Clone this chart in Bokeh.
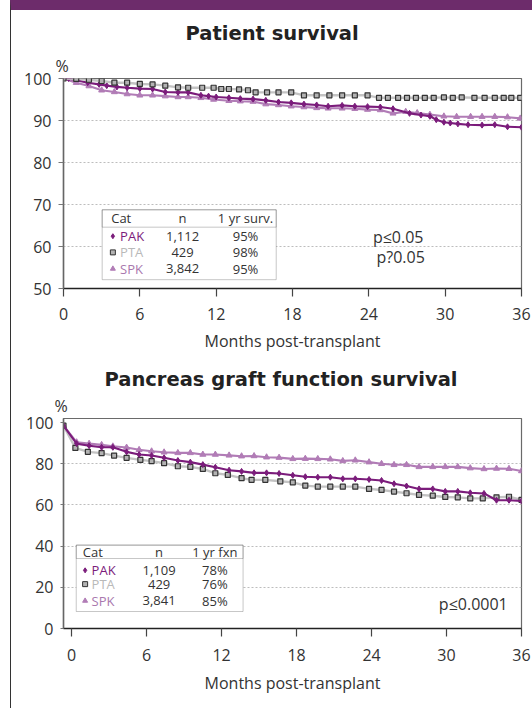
from bokeh.plotting import figure
from bokeh.models import FixedTicker, Label, BoxAnnotation, ColumnDataSource, Title
from bokeh.layouts import column
from bokeh.core.properties import value
from bokeh.embed import file_html
from bokeh.resources import INLINE

FONT = "Open Sans"
TITLE_FONT = "DejaVu Sans"

# ---------------- data ----------------
series_names = ["PAK", "PTA", "SPK"]

# Patient survival (%)
pak_pat_months = [0, 0.4, 1.9, 2.8, 3.4, 4.2, 5.0, 6.0, 7.0, 8.0,
                  9.0, 9.8, 10.8, 11.4, 12.0, 13.0, 13.9, 14.9, 15.9, 16.9,
                  17.9, 18.9, 19.9, 20.8, 21.9, 22.9, 23.9, 24.9, 25.9, 27.2,
                  28.1, 28.8, 29.3, 29.9, 30.4, 31.0, 31.8, 32.9, 33.9, 34.9, 36.0]
pak_pat_surv = [100, 100, 99.0, 98.6, 98.3, 98.0, 97.8, 97.6, 97.5, 96.8,
                96.7, 96.7, 96.0, 95.8, 95.6, 95.4, 95.2, 95.1, 94.8, 94.4,
                94.2, 93.9, 93.7, 93.4, 93.6, 93.4, 93.3, 93.2, 92.8, 91.7,
                91.3, 91.0, 90.2, 89.6, 89.4, 89.2, 89.0, 88.9, 89.0, 88.5, 88.4]

pta_pat_months = [0, 1.0, 2.0, 3.0, 4.0, 5.0, 6.0, 7.0, 8.0, 9.0,
                  9.8, 10.9, 11.8, 12.4, 13.0, 13.8, 14.5, 15.1, 16.0, 16.9, 17.9,
                  18.9, 19.9, 20.9, 21.9, 22.9, 23.9,
                  24.8, 25.5, 26.3, 27.0, 27.7, 28.4, 29.1, 29.9, 30.6, 31.3,
                  32.3, 33.1, 33.9, 34.6, 35.2, 35.9]
pta_pat_surv = [100, 99.9, 99.7, 99.4, 99.0, 99.0, 98.7, 98.6, 98.3, 97.9,
                97.8, 97.8, 97.8, 97.5, 97.5, 97.4, 97.2, 96.7, 96.7, 96.7, 96.7,
                96.0, 96.0, 96.0, 96.0, 96.0, 96.0,
                95.4, 95.4, 95.4, 95.4, 95.4, 95.4, 95.4, 95.5, 95.4, 95.5,
                95.4, 95.4, 95.4, 95.4, 95.4, 95.4]

spk_pat_months = [0, 1.0, 2.0, 3.0, 4.0, 5.0, 6.0, 7.0, 8.0, 9.0,
                  9.8, 10.8, 11.8, 13.0, 13.9, 14.9, 15.9, 16.9, 17.9, 18.9,
                  19.9, 20.8, 21.9, 22.9, 23.9, 24.9, 25.9, 26.9, 27.8, 28.8,
                  29.9, 30.9, 32.0, 32.9, 33.9, 34.9, 35.9]
spk_pat_surv = [100, 99.0, 98.2, 97.2, 96.8, 96.3, 96.0, 96.0, 95.8, 95.6,
                95.6, 95.4, 95.0, 94.7, 94.6, 94.5, 93.9, 93.7, 93.4, 93.2,
                93.0, 92.9, 92.9, 92.8, 92.6, 92.5, 91.7, 92.1, 91.8, 91.4,
                91.0, 90.9, 90.9, 90.9, 90.9, 90.8, 90.5]

# Pancreas graft function survival (%)
pak_graft_months = [-0.65, 0.4, 1.4, 2.4, 3.3, 4.4, 5.4, 6.4, 7.4, 8.5,
                    9.5, 10.5, 11.5, 12.6, 13.6, 14.6, 15.6, 16.6, 17.7, 18.7,
                    19.7, 20.7, 21.7, 22.7, 23.8, 24.8, 25.8, 26.8, 27.8, 28.9,
                    29.9, 30.9, 31.9, 33.0, 34.0, 35.0, 36.0]
pak_graft_surv = [98.5, 89.8, 88.8, 88.0, 88.0, 85.8, 84.5, 84.0, 82.9, 81.6,
                  80.8, 79.6, 78.3, 76.9, 76.3, 75.6, 75.6, 75.3, 74.4, 73.7,
                  73.5, 73.5, 72.7, 72.7, 72.4, 71.9, 70.3, 69.2, 67.8, 67.8,
                  66.6, 66.6, 65.9, 65.6, 62.3, 62.3, 61.9]

pta_graft_months = [-0.65, 0.3, 1.3, 2.4, 3.4, 4.4, 5.5, 6.4, 7.4, 8.5,
                    9.5, 10.5, 11.5, 12.5, 13.6, 14.4, 15.5, 16.7, 17.7, 18.7,
                    19.7, 20.7, 21.7, 22.7, 23.8, 24.8, 25.8, 26.8, 27.8, 28.9,
                    29.9, 30.9, 31.9, 32.9, 34.0, 35.0, 36.0]
pta_graft_surv = [98.5, 87.7, 85.8, 85.2, 84.0, 82.9, 81.9, 81.3, 80.3, 78.8,
                  78.5, 77.5, 75.4, 74.6, 73.0, 72.2, 72.2, 71.5, 71.0, 69.4,
                  68.9, 68.9, 68.9, 68.9, 67.8, 67.3, 66.5, 65.7, 64.9, 64.5,
                  63.9, 63.7, 63.2, 63.2, 63.7, 64.0, 62.5]

spk_graft_months = [-0.65, 0.4, 1.4, 2.4, 3.3, 4.4, 5.4, 6.4, 7.4, 8.5,
                    9.5, 10.5, 11.5, 12.6, 13.6, 14.6, 15.6, 16.6, 17.7, 18.7,
                    19.7, 20.7, 21.7, 22.7, 23.8, 24.8, 25.8, 26.8, 27.8, 28.9,
                    29.9, 30.9, 31.9, 33.0, 34.0, 35.0, 36.0]
spk_graft_surv = [98.5, 90.5, 89.8, 89.2, 88.5, 87.9, 86.8, 86.1, 85.6, 85.3,
                  85.3, 84.5, 84.5, 84.1, 83.7, 83.8, 83.2, 83.0, 82.4, 82.5,
                  82.4, 82.2, 81.4, 81.7, 80.8, 80.0, 79.5, 79.5, 78.5, 78.5,
                  78.5, 78.5, 77.9, 77.5, 77.7, 77.6, 76.5]

patient_n = ["1,112", "429", "3,842"]
patient_1yr = ["95%", "98%", "95%"]
graft_n = ["1,109", "429", "3,841"]
graft_1yr = ["78%", "76%", "85%"]

month_ticks = [0, 6, 12, 18, 24, 30, 36]
patient_ticks = [50, 60, 70, 80, 90, 100]
patient_grid = [60, 70, 80, 90]
graft_ticks = [0, 20, 40, 60, 80, 100]
graft_grid = [20, 40, 60, 80]

# ---------------- styles ----------------
LINE_COL = {"PAK": "#7b1c7b", "PTA": "#c3c3c3", "SPK": "#b17cb6"}
TEXT_COL = {"PAK": "#7b1c7b", "PTA": "#b9b9b9", "SPK": "#a978ae"}
MARKER = {"PAK": "diamond", "PTA": "square", "SPK": "triangle"}


def make_fig(width, height, xr, yr, left, right, top, bottom, yticks, ygrid,
             tick_y_out, title, title_offset, title_standoff, pct_offset,
             xlabel_standoff, xaxis_title_standoff):
    p = figure(width=width, height=height, x_range=xr, y_range=yr,
               output_backend="svg", toolbar_location=None,
               min_border_left=left, min_border_right=right,
               min_border_top=top, min_border_bottom=bottom)
    p.background_fill_color = "white"
    p.border_fill_color = "white"
    p.outline_line_color = "#6a6a6a"
    p.outline_line_width = 1.2
    p.xgrid.visible = False
    p.ygrid.ticker = FixedTicker(ticks=ygrid)
    p.ygrid.grid_line_color = "#bdbdbd"
    p.ygrid.grid_line_dash = "2 2"
    p.ygrid.grid_line_width = 1

    # main title (outermost) and the "%" unit label (next to the frame)
    p.title.text = title
    p.title.align = "left"
    p.title.offset = title_offset
    p.title.text_font = TITLE_FONT
    p.title.text_font_size = "19.5px"
    p.title.text_font_style = "bold"
    p.title.text_color = "#222222"
    p.title.standoff = title_standoff
    p.add_layout(Title(text="%", align="left", offset=pct_offset, text_font=FONT,
                       text_font_size="16px", text_font_style="normal",
                       text_color="#333333", standoff=3), "above")

    xa = p.xaxis[0]
    xa.ticker = FixedTicker(ticks=month_ticks)
    xa.axis_line_color = "#222222"
    xa.axis_line_width = 1.5
    xa.major_tick_line_color = "#444444"
    xa.major_tick_line_width = 1.2
    xa.major_tick_out = 8
    xa.major_tick_in = 0
    xa.minor_tick_line_color = None
    xa.major_label_text_font = FONT
    xa.major_label_text_font_size = "16px"
    xa.major_label_text_color = "#333333"
    xa.major_label_standoff = xlabel_standoff
    xa.axis_label = "Months post-transplant"
    xa.axis_label_text_font = FONT
    xa.axis_label_text_font_style = "normal"
    xa.axis_label_text_font_size = "16px"
    xa.axis_label_text_color = "#333333"
    xa.axis_label_standoff = xaxis_title_standoff

    ya = p.yaxis[0]
    ya.ticker = FixedTicker(ticks=yticks)
    ya.axis_line_color = "#666666"
    ya.axis_line_width = 1.5
    ya.major_tick_line_color = "#777777"
    ya.major_tick_out = tick_y_out
    ya.major_tick_in = 0
    ya.minor_tick_line_color = None
    ya.major_label_text_font = FONT
    ya.major_label_text_font_size = "16px"
    ya.major_label_text_color = "#333333"
    ya.major_label_standoff = 7
    return p


def draw_series(p, months, surv, name):
    col = LINE_COL[name]
    if name == "PTA":
        p.line(months, surv, line_color=col, line_width=2.4)
        p.scatter(months, surv, marker="square", size=5, fill_color="#b3b3b3",
                  line_color="#333333", line_width=1.2)
    else:
        p.line(months, surv, line_color=col, line_width=2.1)
        p.scatter(months, surv, marker=MARKER[name], size=6,
                  fill_color=col, line_color=col)


def add_table(p, box, head_y, sep_y, rows_y, cat_x, mark_x, name_x, n_x, pct_x,
              pct_header, n_vals, pct_vals):
    left, right, bottom, top = box
    p.add_layout(BoxAnnotation(left=left, right=right, bottom=bottom, top=top,
                               fill_color="white", fill_alpha=1.0,
                               line_color="#444444", line_width=1, level="underlay"))
    p.add_layout(BoxAnnotation(left=left, right=right, bottom=sep_y, top=top,
                               fill_alpha=0.0, line_color="#444444", line_width=1,
                               level="underlay"))
    fs = value("13px")
    p.text(x=[cat_x], y=[head_y], text=["Cat"], text_font=value(FONT), text_font_size=fs,
           text_color="#333333", text_align="left", text_baseline="middle")
    p.text(x=[n_x, pct_x], y=[head_y, head_y], text=["n", pct_header], text_font=value(FONT),
           text_font_size=fs, text_color="#333333", text_align="center", text_baseline="middle")
    src = ColumnDataSource(dict(
        mx=[mark_x] * 3, nx=[name_x] * 3, y=rows_y, cat=series_names,
        col=[TEXT_COL[s] for s in series_names], marker=[MARKER[s] for s in series_names],
        mfill=[LINE_COL["PAK"], "#b3b3b3", LINE_COL["SPK"]],
        mline=[LINE_COL["PAK"], "#333333", LINE_COL["SPK"]],
        n=n_vals, pct=pct_vals, ncx=[n_x] * 3, pcx=[pct_x] * 3))
    p.scatter(x="mx", y="y", marker="marker", size=5, fill_color="mfill",
              line_color="mline", line_width=1, source=src)
    p.text(x="nx", y="y", text="cat", text_color="col", text_font=value(FONT),
           text_font_size=fs, text_align="left", text_baseline="middle", source=src)
    p.text(x="ncx", y="y", text="n", text_color="#333333", text_font=value(FONT),
           text_font_size=fs, text_align="center", text_baseline="middle", source=src)
    p.text(x="pcx", y="y", text="pct", text_color="#333333", text_font=value(FONT),
           text_font_size=fs, text_align="center", text_baseline="middle", source=src)


def add_label(p, x, y, text, align="center"):
    p.add_layout(Label(x=x, y=y, text=text, text_font=FONT, text_font_size="16px",
                       text_color="#333333", text_align=align, text_baseline="middle"))


W = 521

# ---------------- chart 1: patient survival ----------------
p1 = make_fig(W, 352, (0, 36), (50, 100), left=52, right=11, top=68, bottom=74,
              yticks=patient_ticks, ygrid=patient_grid, tick_y_out=5,
              title="Patient survival", title_offset=122, title_standoff=13,
              pct_offset=-8, xlabel_standoff=11, xaxis_title_standoff=7)
draw_series(p1, spk_pat_months, spk_pat_surv, "SPK")
draw_series(p1, pak_pat_months, pak_pat_surv, "PAK")
draw_series(p1, pta_pat_months, pta_pat_surv, "PTA")
add_table(p1, box=(3.04, 16.72, 52.1, 68.74), head_y=66.67, sep_y=64.6,
          rows_y=[62.45, 58.6, 54.7], cat_x=3.75, mark_x=3.88, name_x=4.45,
          n_x=9.36, pct_x=14.31, pct_header="1 yr surv.",
          n_vals=patient_n, pct_vals=patient_1yr)
add_label(p1, 26.31, 62.2, "p≤0.05")
add_label(p1, 26.5, 57.45, "p?0.05")

# ---------------- chart 2: pancreas graft function survival ----------------
p2 = make_fig(W, 346, (-0.65, 36), (0, 102), left=48, right=8, top=56, bottom=80,
              yticks=graft_ticks, ygrid=graft_grid, tick_y_out=3,
              title="Pancreas graft function survival", title_offset=41, title_standoff=2,
              pct_offset=-9, xlabel_standoff=12, xaxis_title_standoff=8)
draw_series(p2, spk_graft_months, spk_graft_surv, "SPK")
draw_series(p2, pta_graft_months, pta_graft_surv, "PTA")
draw_series(p2, pak_graft_months, pak_graft_surv, "PAK")
add_table(p2, box=(0.37, 13.72, 8.25, 40.5), head_y=37.2, sep_y=34.0,
          rows_y=[28.25, 21.55, 13.45], cat_x=0.89, mark_x=1.08, name_x=1.6,
          n_x=7.0, pct_x=11.46, pct_header="1 yr fxn",
          n_vals=graft_n, pct_vals=graft_1yr)
add_label(p2, 34.9, 12.1, "p≤0.0001", align="right")

layout = column(p1, p2, styles={"margin-left": "10px",
                                "border-left": "1px solid #333333",
                                "border-top": "10px solid #6d2c6b"})

open("out.html", "w").write(file_html(layout, INLINE))
